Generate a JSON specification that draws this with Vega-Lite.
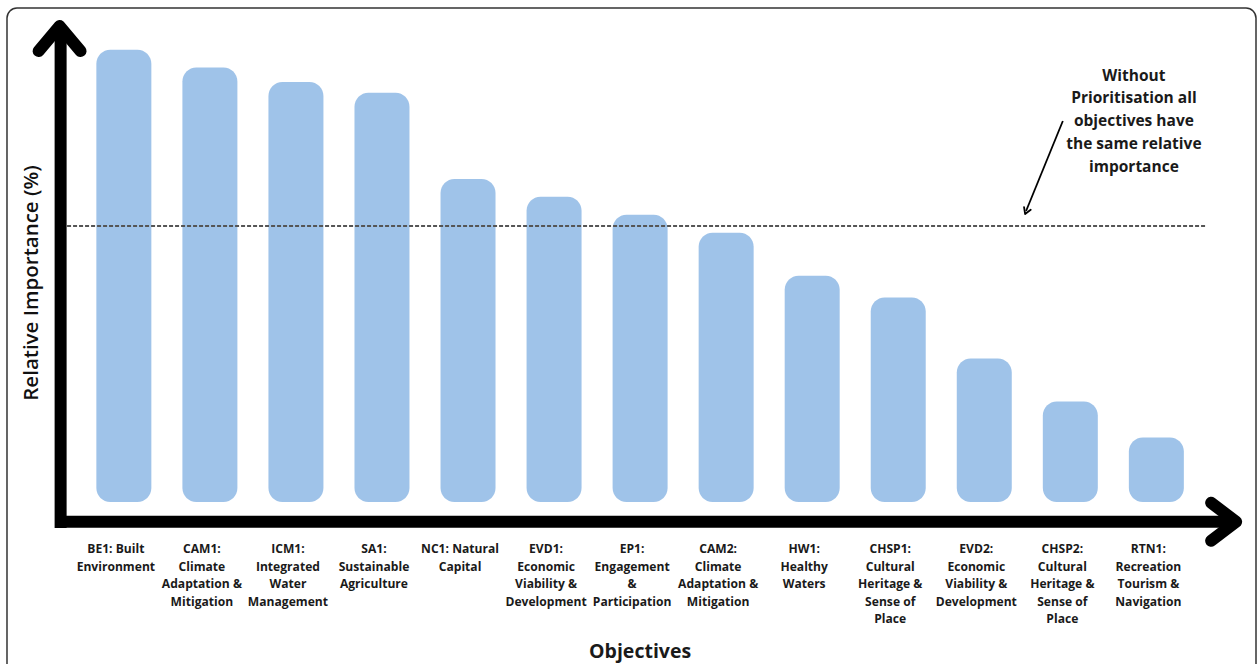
{
  "$schema": "https://vega.github.io/schema/vega-lite/v6.json",
  "width": 1249,
  "height": 666,
  "autosize": {"type": "none"},
  "padding": {"left": 7, "top": 8, "right": 2, "bottom": -10},
  "background": "white",
  "config": {
    "view": {"stroke": "#333333", "strokeWidth": 1.5, "cornerRadius": 10}
  },
  "data": {
    "values": [
      {"i": 0, "objective": "BE1: Built\nEnvironment", "value": 12.6},
      {"i": 1, "objective": "CAM1:\nClimate\nAdaptation &\nMitigation", "value": 12.1},
      {"i": 2, "objective": "ICM1:\nIntegrated\nWater\nManagement", "value": 11.7},
      {"i": 3, "objective": "SA1:\nSustainable\nAgriculture", "value": 11.4},
      {"i": 4, "objective": "NC1: Natural\nCapital", "value": 9.0},
      {"i": 5, "objective": "EVD1:\nEconomic\nViability &\nDevelopment", "value": 8.5},
      {"i": 6, "objective": "EP1:\nEngagement\n&\nParticipation", "value": 8.0},
      {"i": 7, "objective": "CAM2:\nClimate\nAdaptation &\nMitigation", "value": 7.5},
      {"i": 8, "objective": "HW1:\nHealthy\nWaters", "value": 6.3},
      {"i": 9, "objective": "CHSP1:\nCultural\nHeritage &\nSense of\nPlace", "value": 5.7},
      {"i": 10, "objective": "EVD2:\nEconomic\nViability &\nDevelopment", "value": 4.0},
      {"i": 11, "objective": "CHSP2:\nCultural\nHeritage &\nSense of\nPlace", "value": 2.8},
      {"i": 12, "objective": "RTN1:\nRecreation\nTourism &\nNavigation", "value": 1.8}
    ]
  },
  "layer": [
    {
      "mark": {"type": "bar", "orient": "vertical", "size": 55, "cornerRadius": 14, "color": "#9fc3e9"},
      "encoding": {
        "x": {"field": "i", "type": "quantitative", "scale": {"domain": [-1.3, 13.1], "nice": false, "zero": false}, "axis": null},
        "y": {"field": "value", "type": "quantitative", "scale": {"domain": [-4.79, 13.76], "nice": false, "zero": false}, "axis": null},
        "y2": {"datum": 0}
      }
    },
    {
      "mark": {"type": "text", "align": "center", "baseline": "top", "dx": -8, "font": "Open Sans", "fontWeight": "bold", "fontSize": 12.1, "lineHeight": 17.4, "lineBreak": "\n", "color": "#1a1a1a"},
      "encoding": {
        "x": {"field": "i", "type": "quantitative"},
        "y": {"datum": -1.15, "type": "quantitative"},
        "text": {"field": "objective", "type": "nominal"}
      }
    },
    {
      "data": {"values": [{}]},
      "mark": {"type": "rule", "color": "#555555", "strokeWidth": 2, "strokeDash": [4, 2]},
      "encoding": {
        "x": {"datum": -0.66, "type": "quantitative"},
        "x2": {"datum": 12.57},
        "y": {"datum": 7.69, "type": "quantitative"}
      }
    },
    {
      "data": {"values": [{}]},
      "mark": {"type": "rule", "color": "black", "strokeWidth": 12, "strokeCap": "butt"},
      "encoding": {
        "x": {"datum": -0.735, "type": "quantitative"},
        "y": {"datum": 13.26, "type": "quantitative"},
        "y2": {"datum": -0.725}
      }
    },
    {
      "data": {"values": [{}]},
      "mark": {"type": "rule", "color": "black", "strokeWidth": 12, "strokeCap": "butt"},
      "encoding": {
        "x": {"datum": -0.793, "type": "quantitative"},
        "x2": {"datum": 12.915},
        "y": {"datum": -0.55, "type": "quantitative"}
      }
    },
    {
      "data": {"values": [{}]},
      "mark": {"type": "point", "shape": "M-0.84,0.5L0,-0.5L0.84,0.5", "size": 2500, "filled": false, "stroke": "black", "strokeWidth": 12, "strokeCap": "round", "strokeJoin": "round", "opacity": 1},
      "encoding": {
        "x": {"datum": -0.747, "type": "quantitative"},
        "y": {"datum": 12.91, "type": "quantitative"}
      }
    },
    {
      "data": {"values": [{}]},
      "mark": {"type": "point", "shape": "M-0.5,-0.76L0.5,0L-0.5,0.76", "size": 2500, "filled": false, "stroke": "black", "strokeWidth": 12, "strokeCap": "round", "strokeJoin": "round", "opacity": 1},
      "encoding": {
        "x": {"datum": 12.782, "type": "quantitative"},
        "y": {"datum": -0.55, "type": "quantitative"}
      }
    },
    {
      "data": {"values": [{}]},
      "mark": {"type": "rule", "color": "black", "strokeWidth": 1.8},
      "encoding": {
        "x": {"datum": 10.913, "type": "quantitative"},
        "x2": {"datum": 10.486},
        "y": {"datum": 10.612, "type": "quantitative"},
        "y2": {"datum": 8.105}
      }
    },
    {
      "data": {"values": [{}]},
      "mark": {"type": "point", "shape": "M-0.6,-1L0,0L0.6,-1", "size": 144, "angle": 22, "filled": false, "stroke": "black", "strokeWidth": 1.8, "strokeCap": "round", "strokeJoin": "round", "opacity": 1},
      "encoding": {
        "x": {"datum": 10.475, "type": "quantitative"},
        "y": {"datum": 8.022, "type": "quantitative"}
      }
    },
    {
      "data": {"values": [{"note": "Without\nPrioritisation all\nobjectives have\nthe same relative\nimportance"}]},
      "mark": {"type": "text", "align": "center", "baseline": "top", "font": "Open Sans", "fontWeight": "bold", "fontSize": 15.5, "lineHeight": 22.8, "lineBreak": "\n", "color": "#1a1a1a"},
      "encoding": {
        "x": {"datum": 11.739, "type": "quantitative"},
        "y": {"datum": 12.07, "type": "quantitative"},
        "text": {"field": "note", "type": "nominal"}
      }
    },
    {
      "data": {"values": [{"title": "Objectives"}]},
      "mark": {"type": "text", "align": "center", "baseline": "middle", "font": "Open Sans", "fontWeight": "bold", "fontSize": 19.5, "color": "#1a1a1a"},
      "encoding": {
        "x": {"datum": 6.0, "type": "quantitative"},
        "y": {"datum": -4.18, "type": "quantitative"},
        "text": {"field": "title", "type": "nominal"}
      }
    },
    {
      "data": {"values": [{"title": "Relative Importance (%)"}]},
      "mark": {"type": "text", "align": "center", "baseline": "middle", "angle": 270, "font": "Open Sans", "fontWeight": 600, "fontSize": 20.5, "color": "#111111"},
      "encoding": {
        "x": {"datum": -1.069, "type": "quantitative"},
        "y": {"datum": 6.1, "type": "quantitative"},
        "text": {"field": "title", "type": "nominal"}
      }
    }
  ]
}
